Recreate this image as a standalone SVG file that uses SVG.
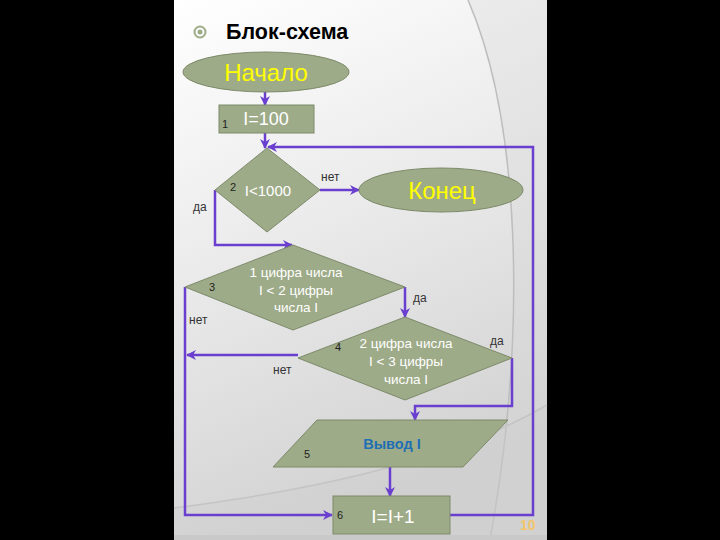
<svg xmlns="http://www.w3.org/2000/svg" width="720" height="540" viewBox="0 0 720 540">
<defs>
<linearGradient id="bg" x1="0" y1="0" x2="0.3" y2="1">
<stop offset="0" stop-color="#ffffff"/>
<stop offset="0.45" stop-color="#ececec"/>
<stop offset="1" stop-color="#d2d2d2"/>
</linearGradient>
<marker id="arr" viewBox="0 0 10 10" refX="9" refY="5" markerWidth="10" markerHeight="10" markerUnits="userSpaceOnUse" orient="auto">
<path d="M0,0 L10,5 L0,10 L3,5 Z" fill="#6a3fd0"/>
</marker>
<style>
.node{fill:#9eab88;stroke:#7d8a6a;stroke-width:1}
.w{fill:#ffffff;font-family:"Liberation Sans",Arial,sans-serif;text-anchor:middle}
.y{fill:#ffff00;font-family:"Liberation Sans",Arial,sans-serif;text-anchor:middle}
.n{fill:#222222;font-family:"Liberation Sans",Arial,sans-serif;font-size:11px}
.lbl{fill:#333333;font-family:"Liberation Sans",Arial,sans-serif;font-size:12px}
.c{fill:none;stroke:#6a3fd0;stroke-width:2.5}
</style>
</defs>
<rect x="0" y="0" width="720" height="540" fill="#000"/>
<rect x="174" y="0" width="373" height="540" fill="url(#bg)"/>
<path d="M468,0 C520,120 528,330 490,540 L547,540 L547,0 Z" fill="#d8d8d8" opacity="0.35"/>
<path d="M468,0 C520,120 528,330 490,540" fill="none" stroke="#bdbdbd" stroke-width="1.5"/>
<path d="M174,508 C300,492 450,462 547,405 L547,540 L174,540 Z" fill="#cfcfcf" opacity="0.35"/>
<path d="M174,508 C300,492 450,462 547,405" fill="none" stroke="#c4c4c4" stroke-width="1.5"/>
<rect x="174" y="535" width="373" height="5" fill="#c9c9c9"/>

<g id="title">
<circle cx="200" cy="32" r="5.5" fill="none" stroke="#9eab88" stroke-width="2"/>
<circle cx="200" cy="32" r="2.5" fill="#9eab88"/>
<text x="226" y="39" font-family="Liberation Sans,Arial,sans-serif" font-size="21.5" font-weight="bold" fill="#000">Блок-схема</text>
</g>

<g id="connectors">
<line class="c" x1="265" y1="92" x2="265" y2="105" marker-end="url(#arr)"/>
<line class="c" x1="265" y1="133" x2="265" y2="148" marker-end="url(#arr)"/>
<line class="c" x1="320" y1="190" x2="359" y2="190" marker-end="url(#arr)"/>
<polyline class="c" points="215,190 215,245 292,245" marker-end="url(#arr)"/>
<polyline class="c" points="405,287 405,317" marker-end="url(#arr)"/>
<line class="c" x1="298" y1="355" x2="187" y2="355" marker-end="url(#arr)"/>
<polyline class="c" points="185,287 185,515 332,515" marker-end="url(#arr)"/>
<polyline class="c" points="512,358 512,406 415,406 415,420" marker-end="url(#arr)"/>
<line class="c" x1="390" y1="467" x2="390" y2="496" marker-end="url(#arr)"/>
<polyline class="c" points="450,515 533,515 533,147 268,147" marker-end="url(#arr)"/>
</g>

<g id="start">
<ellipse class="node" cx="266" cy="72" rx="83" ry="20"/>
<text class="y" x="266" y="81" font-size="24">Начало</text>
</g>
<g id="n1">
<rect class="node" x="219" y="105" width="95" height="28"/>
<text class="n" x="222" y="128">1</text>
<text class="w" x="266" y="125" font-size="18">I=100</text>
</g>
<g id="n2">
<polygon class="node" points="267,148 320,190 267,232 215,190"/>
<text class="n" x="230" y="191">2</text>
<text class="w" x="268" y="196" font-size="15">I&lt;1000</text>
</g>
<g id="end">
<ellipse class="node" cx="441" cy="190" rx="82" ry="22"/>
<text class="y" x="442" y="199" font-size="24">Конец</text>
</g>
<g id="n3">
<polygon class="node" points="293,245 405,287 293,330 185,287"/>
<text class="n" x="209" y="291">3</text>
<text class="w" x="296" y="277" font-size="13.5">1 цифра числа</text>
<text class="w" x="296" y="295" font-size="13.5">I &lt; 2 цифры</text>
<text class="w" x="296" y="312" font-size="13.5">числа I</text>
</g>
<g id="n4">
<polygon class="node" points="405,317 512,358 405,400 298,358"/>
<text class="n" x="335" y="351">4</text>
<text class="w" x="406" y="348" font-size="13.5">2 цифра числа</text>
<text class="w" x="406" y="366" font-size="13.5">I &lt; 3 цифры</text>
<text class="w" x="406" y="384" font-size="13.5">числа I</text>
</g>
<g id="n5">
<polygon class="node" points="317,420 508,420 463,467 273,467"/>
<text class="n" x="304" y="458">5</text>
<text x="392" y="449" font-family="Liberation Sans,Arial,sans-serif" font-size="14.5" font-weight="bold" fill="#1f6fb5" text-anchor="middle">Вывод I</text>
</g>
<g id="n6">
<rect class="node" x="333" y="496" width="117" height="38"/>
<text class="n" x="337" y="519">6</text>
<text class="w" x="393" y="523" font-size="19">I=I+1</text>
</g>

<g id="labels">
<text class="lbl" x="321" y="181">нет</text>
<text class="lbl" x="193" y="211">да</text>
<text class="lbl" x="413" y="302">да</text>
<text class="lbl" x="189" y="324">нет</text>
<text class="lbl" x="490" y="345">да</text>
<text class="lbl" x="273" y="374">нет</text>
</g>
<text x="520" y="530" font-family="Liberation Sans,Arial,sans-serif" font-size="14" font-weight="bold" fill="#f3c56a">10</text>
</svg>
